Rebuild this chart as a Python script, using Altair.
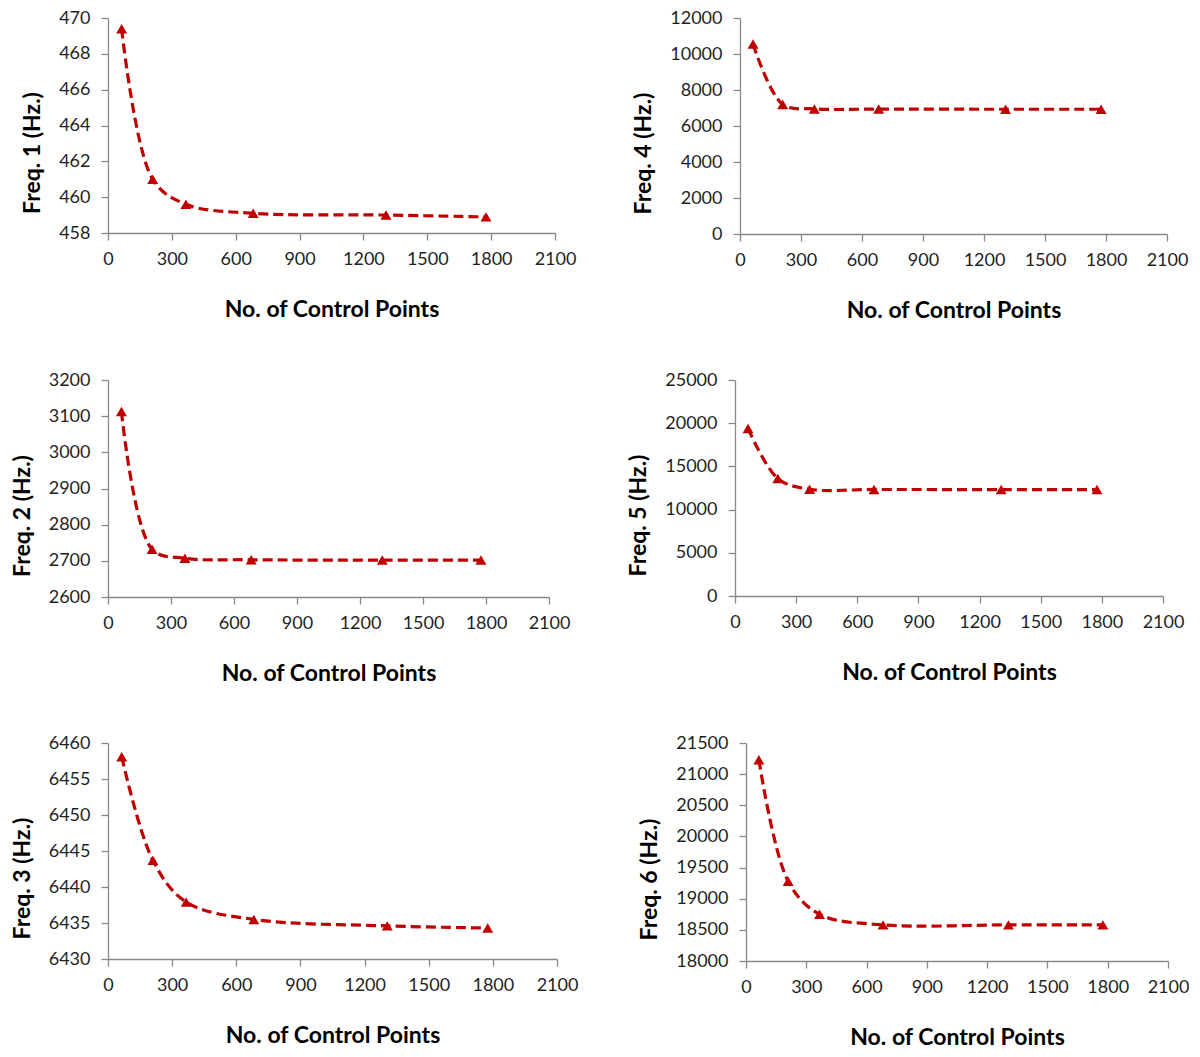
import altair as alt
import pandas as pd

# Number of control points (shared x values)
control_points = [64, 210, 366, 682, 1306, 1776]

# Frequencies
freq1 = [469.4, 461.0, 459.6, 459.1, 459.0, 458.9]
freq2 = [3113, 2732, 2707, 2703, 2702, 2702]
freq3 = [6458.1, 6443.7, 6437.9, 6435.5, 6434.6, 6434.3]
freq4 = [10550, 7200, 6950, 6940, 6930, 6930]
freq5 = [19400, 13600, 12350, 12330, 12320, 12320]
freq6 = [21230, 19280, 18750, 18580, 18580, 18580]

x_ticks = [0, 300, 600, 900, 1200, 1500, 1800, 2100]

RED = "#C00000"
FONT = "Lato"


def panel(ys, title, y_domain, y_step, w, h):
    df = pd.DataFrame({"x": control_points, "y": ys})
    y_ticks = []
    v = y_domain[0]
    while v <= y_domain[1] + 1e-9:
        y_ticks.append(round(v, 6))
        v += y_step
    x_enc = alt.X(
        "x:Q",
        scale=alt.Scale(domain=[0, 2100], nice=False, zero=False),
        axis=alt.Axis(values=x_ticks, title="No. of Control Points", format="d",
                      labelOverlap=False, labelFlush=False),
    )
    y_enc = alt.Y(
        "y:Q",
        scale=alt.Scale(domain=y_domain, nice=False, zero=False),
        axis=alt.Axis(values=y_ticks, title=title, format="d",
                      labelOverlap=False, labelFlush=False, titleY=h / 2 + 27),
    )
    base = alt.Chart(df).encode(x=x_enc, y=y_enc)
    line = base.mark_line(
        color=RED, strokeWidth=3.2, strokeDash=[10, 5], interpolate="catmull-rom"
    )
    pts = base.mark_point(
        shape="triangle-up", filled=True, color=RED, size=120, opacity=1
    )
    return alt.layer(line, pts).properties(width=w, height=h)


p1 = panel(freq1, "Freq. 1 (Hz.)", [458, 470], 2, 447, 215)
p4 = panel(freq4, "Freq. 4 (Hz.)", [0, 12000], 2000, 427, 216)
p2 = panel(freq2, "Freq. 2 (Hz.)", [2600, 3200], 100, 441, 217)
p5 = panel(freq5, "Freq. 5 (Hz.)", [0, 25000], 5000, 428, 216)
p3 = panel(freq3, "Freq. 3 (Hz.)", [6430, 6460], 5, 449, 216)
p6 = panel(freq6, "Freq. 6 (Hz.)", [18000, 21500], 500, 422, 218)

chart = alt.concat(
    alt.hconcat(p1, p4, spacing=56),
    alt.hconcat(p2, p5, spacing=57),
    alt.hconcat(p3, p6, spacing=60),
    columns=1,
    spacing=49,
    align="none",
).properties(
    padding={"left": 3, "top": 1, "right": 0, "bottom": 5}
).configure_view(
    stroke=None
).configure_axis(
    grid=False,
    domainColor="#898989",
    domainWidth=1.3,
    tickColor="#898989",
    tickWidth=1.3,
    tickSize=7,
    labelFont=FONT,
    labelFontSize=18,
    labelColor="#1f1f1f",
    titleFont=FONT,
    titleFontSize=23,
    titleFontWeight="bold",
    titleColor="#000000",
).configure_axisX(
    titlePadding=30,
    labelPadding=10,
).configure_axisY(
    titlePadding=14,
    labelPadding=11,
)

chart.save("out.html", embed_options={"renderer": "svg", "actions": False})
